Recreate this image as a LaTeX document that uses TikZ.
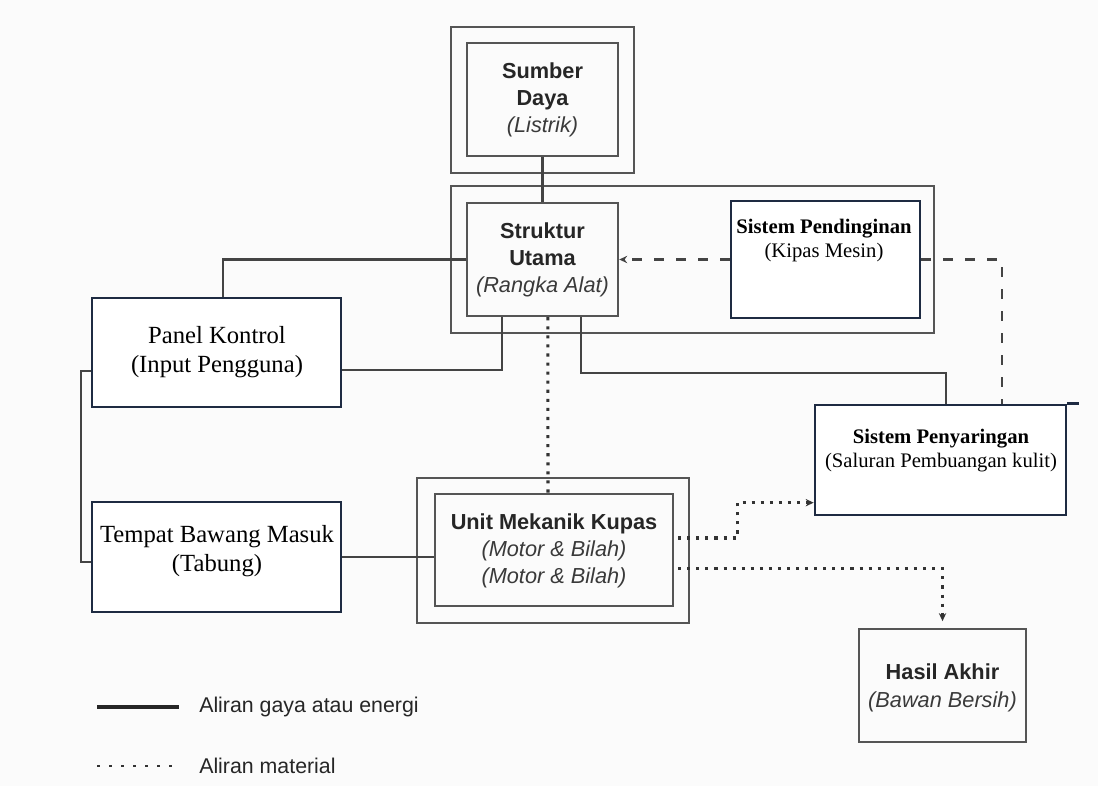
\documentclass[tikz,border=0pt]{standalone}
\usepackage{fontspec}
\setmainfont{Liberation Serif}
\newfontfamily\arialf{Liberation Sans}
\usetikzlibrary{fit,arrows.meta}
\definecolor{gline}{HTML}{555555}
\definecolor{navy}{HTML}{1E2B42}
\definecolor{gtext}{HTML}{262626}
\definecolor{itext}{HTML}{3A3A3A}
\definecolor{bgc}{HTML}{FBFBFB}
\begin{document}
\begin{tikzpicture}[x=0.75pt,y=-0.75pt,
  gbox/.style={draw=gline, line width=1.8pt, inner sep=0pt},
  nbox/.style={draw=navy, line width=2pt, inner sep=0pt, fill=white},
  sanst/.style={font=\arialf\fontsize{16.3}{20.4}\selectfont\bfseries, text=gtext, align=center, inner sep=0pt},
  serifb/.style={font=\fontsize{15.5}{18}\selectfont, text=black, align=center, inner sep=0pt},
  serifl/.style={font=\fontsize{18.5}{22}\selectfont, text=black, align=center, inner sep=0pt},
  eline/.style={draw=gline!80!black, line width=1.7pt},
  dline/.style={draw=gline!80!black, line width=1.8pt, dash pattern=on 7.5pt off 9pt},
  mline/.style={draw=gline!60!black, line width=2.3pt, dash pattern=on 2.3pt off 4.5pt},
  tip/.style={-{Stealth[length=6pt,width=5.5pt]}},
  legt/.style={font=\arialf\fontsize{16}{20}\selectfont, text=gtext, anchor=west, inner sep=0pt}
]
\useasboundingbox (0,0) rectangle (1098,786);
\fill[bgc] (0,0) rectangle (1098,786);

% outer frames
\node[gbox, fit={(451,27) (634,173)}] (sumberO) {};
\node[gbox, fit={(451,186) (934,333)}] (strukO) {};
\node[gbox, fit={(417,478) (689,623)}] (unitO) {};

% inner boxes
\node[gbox, fit={(467,43) (618,156)}] (sumber) {};
\node[gbox, fit={(467,203) (618,316)}] (struktur) {};
\node[nbox, fit={(731,201) (920,318)}] (pend) {};
\node[nbox, fit={(92,298) (341,407)}] (panel) {};
\node[nbox, fit={(92,502) (341,612)}] (tempat) {};
\node[gbox, fit={(435,494) (673,606)}] (unit) {};
\node[nbox, fit={(815,405) (1066,515)}] (penyar) {};
\node[gbox, fit={(859,629) (1026,742)}] (hasil) {};

% texts
\node[sanst] (sumbertxt) at (542.5,100) {Sumber\\Daya\\\textcolor{itext}{\mdseries\itshape (Listrik)}};
\node[sanst] (struktxt) at (542.5,260) {Struktur\\Utama\\\textcolor{itext}{\mdseries\itshape (Rangka Alat)}};
\node[serifb] (pendtxt) at (824,241) {\textbf{Sistem Pendinginan}\\(Kipas Mesin)};
\node[serifl] (paneltxt) at (217,352) {Panel Kontrol\\(Input Pengguna)};
\node[serifl] (tempattxt) at (217,551) {Tempat Bawang Masuk\\(Tabung)};
\node[sanst] (unittxt) at (554,551) {Unit Mekanik Kupas\\\textcolor{itext}{\mdseries\itshape (Motor \& Bilah)}\\\textcolor{itext}{\mdseries\itshape (Motor \& Bilah)}};
\node[serifb] (penyartxt) at (941,451) {\textbf{Sistem Penyaringan}\\(Saluran Pembuangan kulit)};
\node[sanst] (hasiltxt) at (942.5,688) {Hasil Akhir\\[1pt]\textcolor{itext}{\mdseries\itshape (Bawan Bersih)}};

% energy connectors
\draw[eline] (sumber.south) -- (struktur.north);
\draw[eline] ([xshift=5pt]panel.north) |- (struktur.west);
\draw[eline] ([yshift=-13pt]panel.east) -| ([xshift=-30.4pt]struktur.south);
\draw[eline] ([xshift=29pt]struktur.south) -- ++(0,56) -| ([xshift=4pt]penyar.north);
\draw[eline] ([yshift=-14pt]panel.west) -- ++(-10,0) |- ([yshift=-4pt]tempat.west);
\draw[eline] (tempat.east) -- (tempat.east -| unit.west);
\draw[draw=navy, line width=2pt] (penyar.north east) -- ++(12,0);

% cooling (dashed)
\draw[dline, tip] (pend.west) -- (struktur.east);
\draw[dline] (pend.east) -| ([xshift=46pt]penyar.north);

% material (dotted)
\draw[mline] ([xshift=4pt]struktur.south) -- ([xshift=-4.5pt]unit.north);
\draw[mline, tip] ([xshift=3pt,yshift=9pt]unit.east) -- ++(59,0) |- ([yshift=-32pt]penyar.west);
\draw[mline, tip] ([xshift=3pt,yshift=-14pt]unit.east) -| ([yshift=5pt]hasil.north);

% legend
\coordinate (la) at (97,707);
\coordinate (lb) at (179,707);
\coordinate (lc) at (97,766);
\coordinate (ld) at (179,766);
\draw[line width=2.6pt, draw=black!85] (la) -- (lb);
\draw[mline, line width=1.8pt, dash pattern=on 2pt off 7pt] (lc) -- (ld);
\node[legt] (leg1) at (199,707) {Aliran gaya atau energi};
\node[legt] (leg2) at (199,766) {Aliran material};
\end{tikzpicture}
\end{document}
